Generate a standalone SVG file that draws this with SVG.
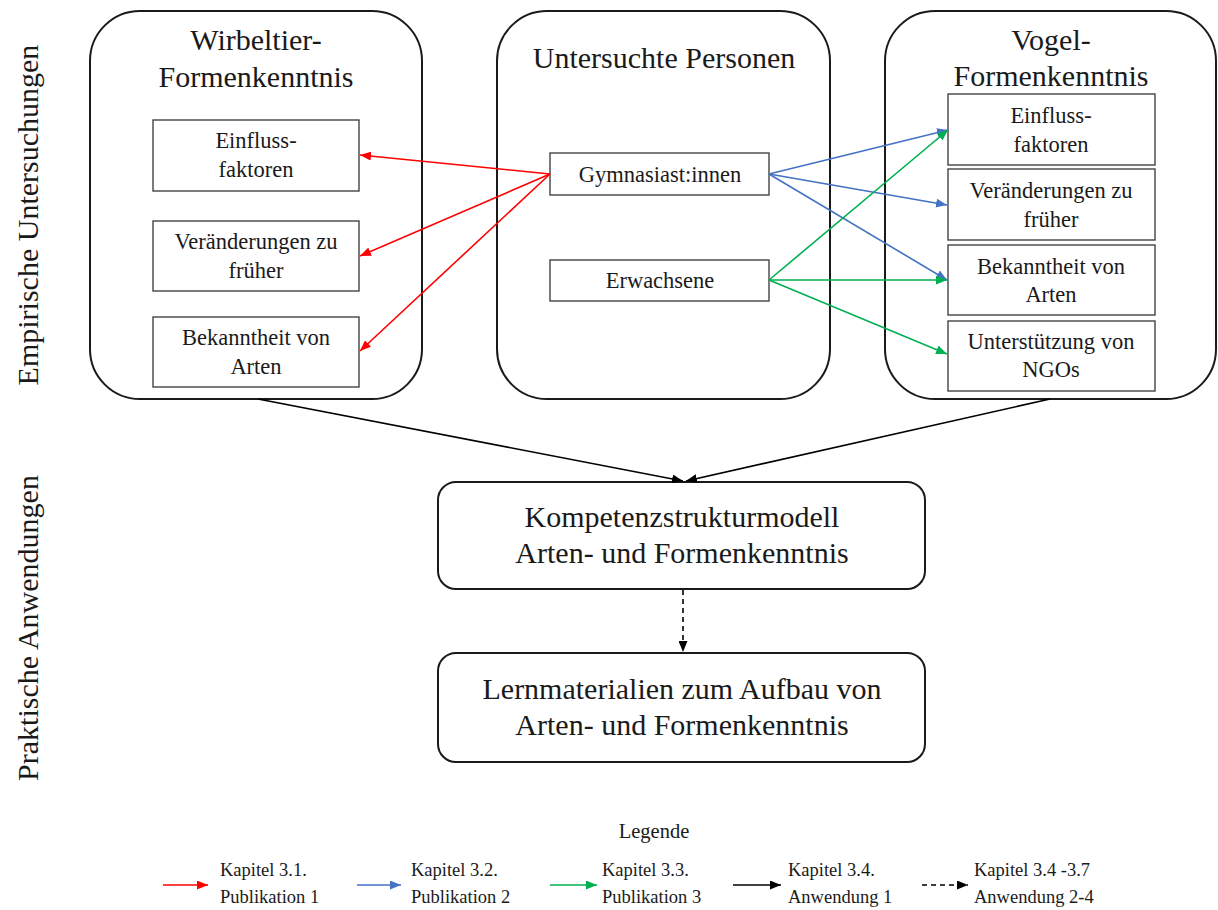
<svg xmlns="http://www.w3.org/2000/svg" width="1218" height="910" viewBox="0 0 1218 910" font-family="'Liberation Serif', 'Times New Roman', serif">
  <style>
    text { font-family: "Liberation Serif", "Times New Roman", serif; fill: #1a1a1a; }
    .title { font-size: 30px; text-anchor: middle; }
    .item { font-size: 22.5px; text-anchor: middle; }
    .side { font-size: 30px; text-anchor: middle; }
    .leg { font-size: 18.5px; }
    .leghead { font-size: 20.5px; text-anchor: middle; }
    .panel { fill: #ffffff; stroke: #1a1a1a; stroke-width: 2; }
    .box { fill: #ffffff; stroke: #444444; stroke-width: 1.4; }
    .red { stroke: #ff0000; stroke-width: 1.6; fill: none; }
    .blue { stroke: #4472c4; stroke-width: 1.6; fill: none; }
    .green { stroke: #00b050; stroke-width: 1.6; fill: none; }
    .black { stroke: #000000; stroke-width: 1.6; fill: none; }
    .dash { stroke: #000000; stroke-width: 1.6; fill: none; stroke-dasharray: 5 4; }
  </style>
  <defs>
    <marker id="ah-red" markerUnits="userSpaceOnUse" markerWidth="11" markerHeight="9" refX="11" refY="4.5" orient="auto">
      <path d="M0,0 L11,4.5 L0,9 z" fill="#ff0000"/>
    </marker>
    <marker id="ah-blue" markerUnits="userSpaceOnUse" markerWidth="11" markerHeight="9" refX="11" refY="4.5" orient="auto">
      <path d="M0,0 L11,4.5 L0,9 z" fill="#4472c4"/>
    </marker>
    <marker id="ah-green" markerUnits="userSpaceOnUse" markerWidth="11" markerHeight="9" refX="11" refY="4.5" orient="auto">
      <path d="M0,0 L11,4.5 L0,9 z" fill="#00b050"/>
    </marker>
    <marker id="ah-black" markerUnits="userSpaceOnUse" markerWidth="11" markerHeight="9" refX="11" refY="4.5" orient="auto">
      <path d="M0,0 L11,4.5 L0,9 z" fill="#000000"/>
    </marker>
  </defs>

  <rect width="1218" height="910" fill="#ffffff"/>

  <!-- side labels -->
  <text class="side" transform="translate(38,215) rotate(-90)">Empirische Untersuchungen</text>
  <text class="side" transform="translate(38,628) rotate(-90)">Praktische Anwendungen</text>

  <!-- left panel -->
  <g id="wirbeltier">
    <rect class="panel" x="90" y="11" width="332" height="388" rx="50"/>
    <text class="title" x="256" y="50">Wirbeltier-</text>
    <text class="title" x="256" y="87">Formenkenntnis</text>
  </g>
  <g id="w-einfluss">
    <rect class="box" x="153" y="120" width="206" height="71"/>
    <text class="item" x="256" y="148">Einfluss-</text>
    <text class="item" x="256" y="177">faktoren</text>
  </g>
  <g id="w-veraenderungen">
    <rect class="box" x="153" y="221" width="206" height="70"/>
    <text class="item" x="256" y="249">Veränderungen zu</text>
    <text class="item" x="256" y="278">früher</text>
  </g>
  <g id="w-bekanntheit">
    <rect class="box" x="153" y="317" width="206" height="70"/>
    <text class="item" x="256" y="345">Bekanntheit von</text>
    <text class="item" x="256" y="374">Arten</text>
  </g>

  <!-- middle panel -->
  <g id="personen">
    <rect class="panel" x="497" y="11" width="333" height="388" rx="50"/>
    <text class="title" x="664" y="68">Untersuchte Personen</text>
  </g>
  <g id="gymnasiast">
    <rect class="box" x="550" y="153" width="219" height="42"/>
    <text class="item" x="660" y="182">Gymnasiast:innen</text>
  </g>
  <g id="erwachsene">
    <rect class="box" x="550" y="260" width="219" height="41"/>
    <text class="item" x="660" y="288">Erwachsene</text>
  </g>

  <!-- right panel -->
  <g id="vogel">
    <rect class="panel" x="885" y="11" width="331" height="388" rx="50"/>
    <text class="title" x="1051" y="50">Vogel-</text>
    <text class="title" x="1051" y="86">Formenkenntnis</text>
  </g>
  <g id="v-einfluss">
    <rect class="box" x="948" y="94" width="207" height="71"/>
    <text class="item" x="1051" y="123">Einfluss-</text>
    <text class="item" x="1051" y="152">faktoren</text>
  </g>
  <g id="v-veraenderungen">
    <rect class="box" x="948" y="169" width="207" height="71"/>
    <text class="item" x="1051" y="198">Veränderungen zu</text>
    <text class="item" x="1051" y="227">früher</text>
  </g>
  <g id="v-bekanntheit">
    <rect class="box" x="948" y="245" width="207" height="70"/>
    <text class="item" x="1051" y="274">Bekanntheit von</text>
    <text class="item" x="1051" y="302">Arten</text>
  </g>
  <g id="v-ngos">
    <rect class="box" x="948" y="321" width="207" height="70"/>
    <text class="item" x="1051" y="349">Unterstützung von</text>
    <text class="item" x="1051" y="377">NGOs</text>
  </g>

  <!-- lower boxes -->
  <g id="kompetenz">
    <rect class="panel" x="438" y="482" width="487" height="107" rx="18"/>
    <text class="title" x="682" y="527">Kompetenzstrukturmodell</text>
    <text class="title" x="682" y="563">Arten- und Formenkenntnis</text>
  </g>
  <g id="lernmaterialien">
    <rect class="panel" x="438" y="653" width="487" height="109" rx="18"/>
    <text class="title" x="682" y="699">Lernmaterialien zum Aufbau von</text>
    <text class="title" x="682" y="735">Arten- und Formenkenntnis</text>
  </g>

  <!-- connectors -->
  <g id="connectors">
    <line class="red" x1="550" y1="174" x2="360" y2="155" marker-end="url(#ah-red)"/>
    <line class="red" x1="550" y1="174" x2="360" y2="256" marker-end="url(#ah-red)"/>
    <line class="red" x1="550" y1="174" x2="360" y2="351" marker-end="url(#ah-red)"/>

    <line class="blue" x1="769" y1="174" x2="948" y2="130" marker-end="url(#ah-blue)"/>
    <line class="blue" x1="769" y1="174" x2="947" y2="205" marker-end="url(#ah-blue)"/>
    <line class="blue" x1="769" y1="174" x2="947" y2="280" marker-end="url(#ah-blue)"/>

    <line class="green" x1="769" y1="280" x2="948" y2="130" marker-end="url(#ah-green)"/>
    <line class="green" x1="769" y1="280" x2="947" y2="280" marker-end="url(#ah-green)"/>
    <line class="green" x1="769" y1="280" x2="947" y2="354" marker-end="url(#ah-green)"/>

    <line class="black" x1="258" y1="399" x2="683" y2="481" marker-end="url(#ah-black)"/>
    <line class="black" x1="1050" y1="399" x2="686" y2="481" marker-end="url(#ah-black)"/>

    <line class="dash" x1="683" y1="590" x2="683" y2="652" marker-end="url(#ah-black)"/>
  </g>

  <!-- legend -->
  <g id="legend">
    <text class="leghead" x="654" y="838">Legende</text>

    <line class="red" x1="163" y1="885" x2="208" y2="885" marker-end="url(#ah-red)"/>
    <text class="leg" x="220" y="876">Kapitel 3.1.</text>
    <text class="leg" x="220" y="903">Publikation 1</text>

    <line class="blue" x1="357" y1="885" x2="401" y2="885" marker-end="url(#ah-blue)"/>
    <text class="leg" x="411" y="876">Kapitel 3.2.</text>
    <text class="leg" x="411" y="903">Publikation 2</text>

    <line class="green" x1="550" y1="885" x2="597" y2="885" marker-end="url(#ah-green)"/>
    <text class="leg" x="602" y="876">Kapitel 3.3.</text>
    <text class="leg" x="602" y="903">Publikation 3</text>

    <line class="black" x1="733" y1="885" x2="781" y2="885" marker-end="url(#ah-black)"/>
    <text class="leg" x="788" y="876">Kapitel 3.4.</text>
    <text class="leg" x="788" y="903">Anwendung 1</text>

    <line class="dash" x1="922" y1="885" x2="968" y2="885" marker-end="url(#ah-black)"/>
    <text class="leg" x="974" y="876">Kapitel 3.4 -3.7</text>
    <text class="leg" x="974" y="903">Anwendung 2-4</text>
  </g>
</svg>
